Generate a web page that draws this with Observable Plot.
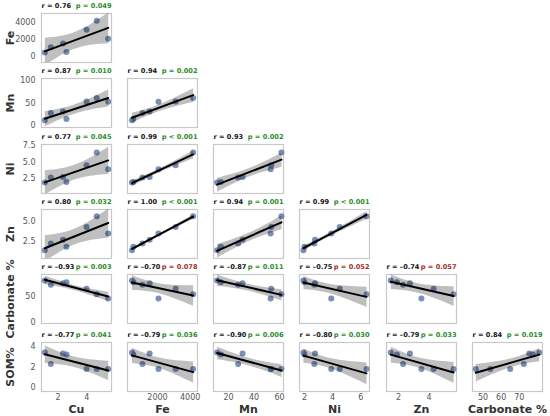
<!DOCTYPE html>
<html><head><meta charset="utf-8">
<script src="https://cdn.jsdelivr.net/npm/d3@7"></script>
<script src="https://cdn.jsdelivr.net/npm/@observablehq/plot@0.6"></script>
<style>
body{margin:0;background:#fff;}
#chart{position:relative;width:550px;height:416px;overflow:hidden;background:#fff;}
#chart svg{position:absolute;}
</style></head><body><div id="chart"></div>
<script>
// ---- data (7 samples) ----
const variables = ["Cu", "Fe", "Mn", "Ni", "Zn", "Carbonate %", "SOM%"];
const Cu = [1.07, 1.49, 2.34, 2.58, 3.98, 4.69, 5.49];
const Fe = [440, 1080, 1520, 520, 3110, 4180, 2060];
const Mn = [11, 27.5, 31, 14, 53.5, 61.5, 53];
const Ni = [1.93, 2.7, 2.75, 2.0, 4.5, 6.4, 3.9];
const Zn = [1.5, 2.3, 2.75, 1.9, 4.3, 5.6, 3.5];
const Carbonate = [81, 72.5, 75.5, 77.5, 65, 54, 46];
const SOM = [3.4, 2.3, 3.3, 3.2, 1.8, 1.8, 1.8];

// r and p per panel (rows Fe..SOM%, columns Cu..Carbonate %)
const rValues = [
  [0.76],
  [0.87, 0.94],
  [0.77, 0.99, 0.93],
  [0.80, 1.00, 0.94, 0.99],
  [-0.93, -0.70, -0.87, -0.75, -0.74],
  [-0.77, -0.79, -0.90, -0.80, -0.79, 0.84]
];
const pLabels = [
  ["= 0.049"],
  ["= 0.010", "= 0.002"],
  ["= 0.045", "< 0.001", "= 0.002"],
  ["= 0.032", "< 0.001", "= 0.001", "< 0.001"],
  ["= 0.003", "= 0.078", "= 0.011", "= 0.052", "= 0.057"],
  ["= 0.041", "= 0.036", "= 0.006", "= 0.030", "= 0.033", "= 0.019"]
];

// tick values
const rowTicks = {
  "Fe": [0, 2000, 4000], "Mn": [0, 50, 100], "Ni": [2.5, 5.0, 7.5], "Zn": [2.5, 5.0],
  "Carbonate %": [0, 50], "SOM%": [0, 2, 4]
};
const colTicks = {
  "Cu": [2, 4], "Fe": [2000, 4000], "Mn": [20, 40, 60], "Ni": [2, 4, 6], "Zn": [2, 4],
  "Carbonate %": [50, 60, 70]
};

// ---- layout / scale config ----
const xDomains = {
  "Cu": [0.84, 5.72], "Fe": [165, 4448], "Mn": [8.2, 63.1], "Ni": [1.65, 6.61],
  "Zn": [1.22, 5.79], "Carbonate %": [44.2, 82.8]
};
const yDomains = {
  "Fe": [-720, 5020], "Mn": [-5.4, 105.4], "Ni": [0.3, 7.6], "Zn": [0.5, 6.4],
  "Carbonate %": [-3, 92.6], "SOM%": [-0.36, 4.36]
};
const yFmt = {"Ni": d3.format(".1f"), "Zn": d3.format(".1f")};
const colLefts = [41, 127, 213, 299, 386, 472];
const rowTops = [13, 78, 144, 209, 274, 342];
const FW = 70, FH = 49;
const M = {top: 16, right: 10, bottom: 36, left: 44};

const values = {"Cu": Cu, "Fe": Fe, "Mn": Mn, "Ni": Ni, "Zn": Zn, "Carbonate %": Carbonate, "SOM%": SOM};
const chart = document.getElementById("chart");
const fmtR = r => "r = " + (r < 0 ? "\u2013" : "") + Math.abs(r).toFixed(2);

for (let i = 1; i < variables.length; i++) {
  for (let j = 0; j < i; j++) {
    const xv = variables[j], yv = variables[i];
    const data = values[xv].map((x, k) => ({x, y: values[yv][k]}));
    const r = rValues[i - 1][j], p = pLabels[i - 1][j];
    const sig = p.startsWith("<") || parseFloat(p.slice(2)) < 0.05;
    const isLeft = j === 0, isBottom = i === variables.length - 1;
    const marks = [
      Plot.frame({stroke: "#c8c8c8", strokeWidth: 1.2}),
      Plot.dot(data, {x: "x", y: "y", r: 3, fill: "#5a73a4", fillOpacity: 0.8}),
      Plot.linearRegressionY(data, {x: "x", y: "y", stroke: "black", strokeWidth: 2, fill: "black", fillOpacity: 0.25, clip: true}),
      Plot.text([fmtR(r)], {text: d => d, frameAnchor: "top-left", textAnchor: "start", lineAnchor: "middle", dy: -7.5, fontWeight: "bold", fontSize: 6.6, fill: "#111"}),
      Plot.text(["p " + p], {text: d => d, frameAnchor: "top-right", textAnchor: "end", lineAnchor: "middle", dy: -7.5, fontWeight: "bold", fontSize: 6.6, fill: sig ? "#2a8a2a" : "#a52a2a"})
    ];
    if (isLeft) marks.push(Plot.text([yv], {text: d => d, frameAnchor: "left", textAnchor: "middle", lineAnchor: "middle", rotate: -90, dx: -31, fontWeight: "bold", fontSize: 11, fill: "#333"}));
    if (isBottom) marks.push(Plot.text([xv], {text: d => d, frameAnchor: "bottom", textAnchor: "middle", lineAnchor: "middle", dy: 17.5, fontWeight: "bold", fontSize: 11, fill: "#333"}));
    const svg = Plot.plot({
      width: FW + M.left + M.right,
      height: FH + M.top + M.bottom,
      marginTop: M.top, marginRight: M.right, marginBottom: M.bottom, marginLeft: M.left,
      style: {background: "transparent", fontFamily: "DejaVu Sans", fontSize: "8px", color: "#555", overflow: "visible"},
      x: {domain: xDomains[xv], ticks: colTicks[xv], tickFormat: d3.format("d"), axis: isBottom ? "bottom" : null, tickSize: 0, tickPadding: 3, label: null},
      y: {domain: yDomains[yv], ticks: rowTicks[yv], tickFormat: yFmt[yv] || d3.format("d"), axis: isLeft ? "left" : null, tickSize: 0, tickPadding: 6, label: null},
      marks
    });
    svg.style.left = (colLefts[j] - M.left) + "px";
    svg.style.top = (rowTops[i - 1] - M.top) + "px";
    chart.append(svg);
  }
}
</script></body></html>
